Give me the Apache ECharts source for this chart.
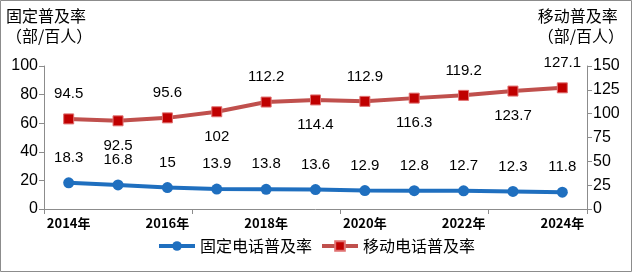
<!DOCTYPE html>
<html><head><meta charset="utf-8">
<script src="https://cdn.jsdelivr.net/npm/echarts@6/dist/echarts.min.js"></script>
<style>html,body{margin:0;padding:0;background:#fff}#c{width:632px;height:272px}</style>
</head><body><div id="c"></div>
<script>
var categories = ['2014年','2015年','2016年','2017年','2018年','2019年','2020年','2021年','2022年','2023年','2024年'];
var fixedRate = [18.3,16.8,15,13.9,13.8,13.6,12.9,12.8,12.7,12.3,11.8];
var mobileRate = [94.5,92.5,95.6,102,112.2,114.4,112.9,116.3,119.2,123.7,127.1];
var mobilePos = ['top','bottom','top','bottom','top','bottom','top','bottom','top','bottom','top'];
var leftTicks = {min:0,max:100,interval:20};
var rightTicks = {min:0,max:150,interval:25};

var chart = echarts.init(document.getElementById('c'));
var numFont = 'Liberation Sans, Arial, sans-serif';
var cjkFont = 'Noto Sans CJK SC, sans-serif';
var axisCol = '#8c8c8c';
chart.setOption({
  animation:false,
  textStyle:{fontFamily:cjkFont},
  graphic:[
    {type:'rect',shape:{x:0.5,y:0.5,width:631,height:271},style:{fill:'none',stroke:'#8c8c8c',lineWidth:1}},
    {type:'text',left:6,top:6,style:{text:'固定普及率\n（部/百人）',font:'16px '+cjkFont,fill:'#000',lineHeight:20}},
    {type:'text',right:8,top:6,style:{text:'移动普及率\n（部/百人）',font:'16px '+cjkFont,fill:'#000',lineHeight:20,align:'right'}}
  ],
  grid:{left:44,right:45,top:66,bottom:63},
  legend:{
    bottom:13,left:'center',itemWidth:36,itemHeight:12,itemGap:8,
    lineStyle:{width:4},
    textStyle:{fontSize:16,fontFamily:cjkFont,color:'#000'},
    data:['固定电话普及率','移动电话普及率']
  },
  xAxis:{
    type:'category',data:categories,boundaryGap:true,
    axisLine:{lineStyle:{color:axisCol,width:1}},
    axisTick:{show:true,interval:2,length:5,lineStyle:{color:axisCol}},
    axisLabel:{interval:1,color:'#000',fontSize:13,fontWeight:'bold',fontFamily:cjkFont,margin:8}
  },
  yAxis:[
    {type:'value',min:leftTicks.min,max:leftTicks.max,interval:leftTicks.interval,
     splitLine:{show:false},
     axisLine:{show:true,lineStyle:{color:axisCol}},
     axisTick:{show:true,length:5,lineStyle:{color:axisCol}},
     axisLabel:{color:'#000',fontSize:16,fontFamily:numFont,margin:6}},
    {type:'value',min:rightTicks.min,max:rightTicks.max,interval:rightTicks.interval,
     splitLine:{show:false},position:'right',
     axisLine:{show:true,lineStyle:{color:axisCol}},
     axisTick:{show:true,length:5,lineStyle:{color:axisCol}},
     axisLabel:{color:'#000',fontSize:16,fontFamily:numFont,margin:6}}
  ],
  series:[
    {name:'固定电话普及率',type:'line',yAxisIndex:0,data:fixedRate,
     symbol:'circle',symbolSize:11,
     lineStyle:{color:'#1f6fbf',width:4},
     itemStyle:{color:'#1f6fbf'},
     label:{show:true,position:'top',distance:12,color:'#000',fontSize:15,fontFamily:numFont}},
    {name:'移动电话普及率',type:'line',yAxisIndex:1,
     data:mobileRate.map(function(v,i){return {value:v,label:{position:mobilePos[i]}};}),
     symbol:'rect',symbolSize:10,
     lineStyle:{color:'#c0504d',width:4},
     itemStyle:{color:'#c00000',borderColor:'#e07070',borderWidth:1},
     label:{show:true,distance:12,color:'#000',fontSize:15,fontFamily:numFont}}
  ]
});
</script></body></html>
